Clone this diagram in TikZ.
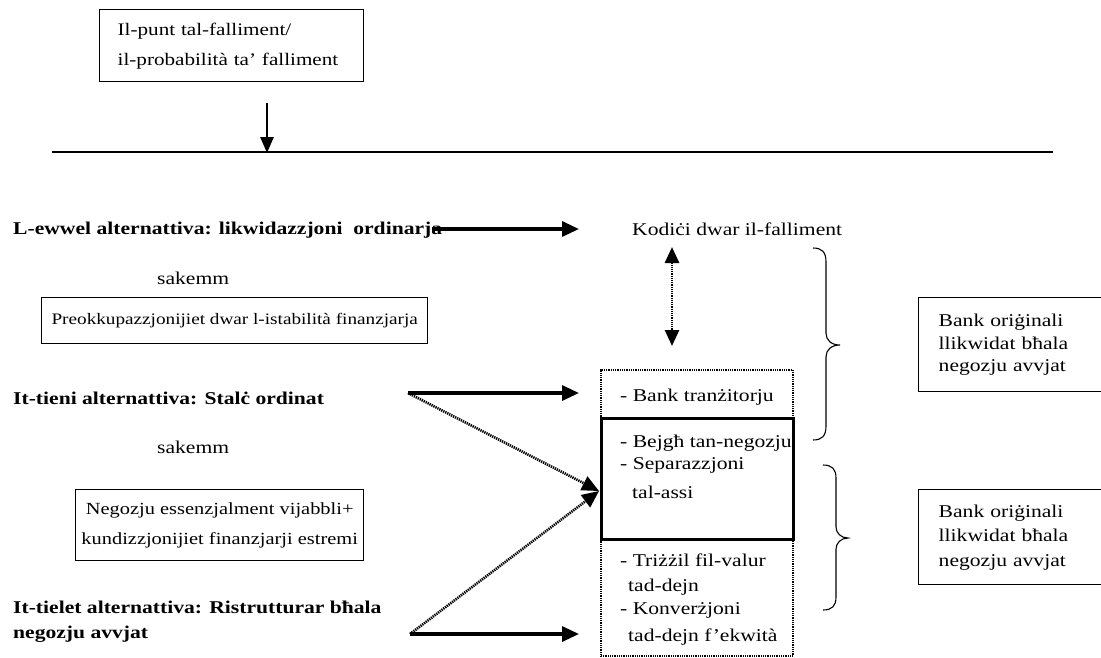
\documentclass[tikz,border=0pt]{standalone}
\usepackage{fontspec}
\setmainfont{Liberation Serif}[FakeStretch=1.2]
\usetikzlibrary{arrows.meta}
\begin{document}
\begin{tikzpicture}[x=1pt,y=-1pt,
  txt/.style={inner sep=0pt, anchor=west, font=\fontsize{18}{23}\selectfont},
  btxt/.style={inner sep=0pt, anchor=west, align=left, font=\fontsize{18}{25}\selectfont\bfseries},
  box/.style={draw, line width=1.4pt},
  sarrow/.style={line width=3.2pt, -{Triangle[length=17pt,width=15pt]}},
  darrow/.style={line width=2.6pt, dash pattern=on 1.3pt off 0.9pt, -{Triangle[length=17pt,width=15pt]}},
  brace/.style={line width=1.1pt}
]
\useasboundingbox (0,0) rectangle (1101,657);

% top box
\node[box, anchor=north west, minimum width=264pt, minimum height=72pt,
      inner xsep=18pt, text width=228pt, align=left,
      font=\fontsize{17.6}{30}\selectfont] (top) at (99,9)
  {Il-punt tal-falliment/\\il-probabilità ta' falliment};
\coordinate (dtop) at (267,103);
\coordinate (dbot) at (267,153);
\draw[line width=2.8pt, -{Triangle[length=16pt,width=13pt]}] (dtop) -- (dbot);
\coordinate (hl) at (52,152);
\coordinate (hr) at (1053,152);
\draw[line width=1.8pt] (hl) -- (hr);

% left column
\node[btxt] (alt1) at (13,230) {L-ewwel alternattiva: likwidazzjoni\ \ ordinarja};
\node[txt] (sak1) at (157,278) {sakemm};
\node[box, anchor=north west, minimum width=386pt, minimum height=46pt, inner sep=0pt,
      font=\fontsize{16}{20}\selectfont] (preo) at (41,297)
  {Preokkupazzjonijiet dwar l-istabilità finanzjarja};
\node[btxt] (alt2) at (13,398) {It-tieni alternattiva: Stalċ ordinat};
\node[txt] (sak2) at (157,447) {sakemm};
\node[box, anchor=north west, minimum width=288pt, minimum height=71pt, inner sep=0pt,
      align=center, font=\fontsize{17}{30}\selectfont] (neg) at (75,489)
  {Negozju essenzjalment vijabbli+\\kundizzjonijiet finanzjarji estremi};
\node[btxt, anchor=north west] (alt3) at (13,601) {It-tielet alternattiva: Ristrutturar bħala\\negozju avvjat};

% right column
\node[txt] (kod) at (632,229) {Kodiċi dwar il-falliment};
\node[draw, line width=2pt, dash pattern=on 1pt off 0.8pt, anchor=north west,
      minimum width=192pt, minimum height=286pt, inner sep=0pt] (outer) at (600,369) {};
\node[draw, line width=3pt, anchor=north west,
      minimum width=192pt, minimum height=121pt, inner sep=0pt] (mid) at (600,417) {};
\node[txt] (t1) at (620,397) {- Bank tranżitorju};
\node[txt] (t2) at (620,443) {- Bejgħ tan-negozju};
\node[txt] (t3) at (620,465) {- Separazzjoni};
\node[txt] (t4) at (632,492) {tal-assi};
\node[txt] (t5) at (620,560) {- Triżżil fil-valur};
\node[txt] (t6) at (628,587) {tad-dejn};
\node[txt] (t7) at (620,610) {- Konverżjoni};
\node[txt] (t8) at (628,637) {tad-dejn f'ekwità};

\node[box, anchor=north west, minimum width=183pt, minimum height=94pt,
      inner xsep=20pt, text width=143pt, align=left,
      font=\fontsize{18}{22.5}\selectfont] (rb1) at (918,297)
  {Bank oriġinali\\llikwidat bħala\\negozju avvjat};
\node[box, anchor=north west, minimum width=183pt, minimum height=95pt,
      inner xsep=20pt, text width=143pt, align=left,
      font=\fontsize{18}{24.5}\selectfont] (rb2) at (918,489)
  {Bank oriġinali\\llikwidat bħala\\negozju avvjat};

% arrows
\coordinate (a1s) at (432,229);
\coordinate (a1e) at (579,229);
\draw[sarrow] (a1s) -- (a1e);
\coordinate (a2s) at (408,393);
\coordinate (a2e) at (579,393);
\draw[sarrow] (a2s) -- (a2e);
\coordinate (a3s) at (410,634);
\coordinate (a3e) at (579,634);
\draw[sarrow] (a3s) -- (a3e);
\coordinate (conv) at (599,491);
\draw[darrow] (a2s) -- (conv);
\draw[darrow] (a3s) -- (conv);
\coordinate (kt) at (672,247);
\coordinate (kb) at (672,346);
\draw[line width=2.6pt, dash pattern=on 1.3pt off 0.9pt,
      {Triangle[length=16pt,width=14pt]}-{Triangle[length=16pt,width=14pt]}] (kt) -- (kb);

% braces
\draw[brace] (813,248) .. controls (822,248) and (826,252) .. (826,262) -- (826,333)
  .. controls (826,340) and (831,345) .. (840,345)
  .. controls (831,345) and (826,350) .. (826,357) -- (826,426)
  .. controls (826,436) and (822,440) .. (813,440);
\draw[brace] (823,465) .. controls (832,465) and (836,469) .. (836,478) -- (836,527)
  .. controls (836,533) and (841,538) .. (848,538)
  .. controls (841,538) and (836,543) .. (836,549) -- (836,597)
  .. controls (836,606) and (832,610) .. (823,610);
\end{tikzpicture}
\end{document}
